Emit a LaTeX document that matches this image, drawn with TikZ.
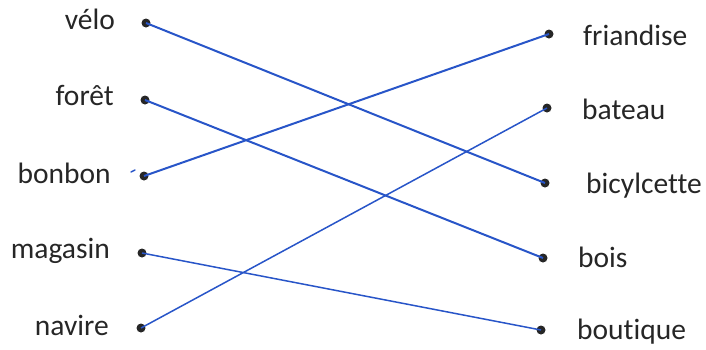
\documentclass[tikz,border=0pt]{standalone}
\usepackage{fontspec}
\setmainfont{Carlito}[Ligatures=NoCommon]
\begin{document}
\begin{tikzpicture}[x=1pt,y=-1pt,
  lbl/.style={inner sep=0pt,text=black!85,font=\fontsize{29.5}{30}\selectfont},
  dotpt/.style={circle,fill=black!85,inner sep=0pt,minimum size=9pt},
  link/.style={color={rgb,255:red,40;green,85;blue,200},line width=2pt},
  thinlink/.style={color={rgb,255:red,40;green,85;blue,200},line width=1.5pt}]
\useasboundingbox (0,0) rectangle (706,349);
% left labels
\node[lbl,anchor=base east] (tvelo) at (115,29) {vélo};
\node[lbl,anchor=base east] (tforet) at (114,105) {forêt};
\node[lbl,anchor=base east] (tbonbon) at (111,183) {bonbon};
\node[lbl,anchor=base east] (tmagasin) at (110,258) {magasin};
\node[lbl,anchor=base east] (tnavire) at (109,335) {navire};
% right labels
\node[lbl,anchor=base west] (tfriandise) at (583,45) {friandise};
\node[lbl,anchor=base west] (tbateau) at (582,119) {bateau};
\node[lbl,anchor=base west] (tbicyl) at (586,193) {bicylcette};
\node[lbl,anchor=base west] (tbois) at (578,267) {bois};
\node[lbl,anchor=base west] (tboutique) at (577,339) {boutique};
% dots
\node[dotpt] (dvelo) at (146,23) {};
\node[dotpt] (dforet) at (145,100) {};
\node[dotpt] (dbonbon) at (144,176) {};
\node[dotpt] (dmagasin) at (142,253) {};
\node[dotpt] (dnavire) at (141,328) {};
\node[dotpt] (dfriandise) at (549,34) {};
\node[dotpt] (dbateau) at (547,108) {};
\node[dotpt] (dbicyl) at (545,183) {};
\node[dotpt] (dbois) at (543,258) {};
\node[dotpt] (dboutique) at (541,330) {};
% links
\draw[link] (dvelo.center) -- (dbicyl.center);
\draw[link] (dforet.center) -- (dbois.center);
\draw[link] (dbonbon.center) -- (dfriandise.center);
\draw[thinlink] (dmagasin.center) -- (dboutique.center);
\draw[thinlink] (dnavire.center) -- (dbateau.center);
% stray pen mark
\coordinate (m1) at (131,172);
\coordinate (m2) at (135,170);
\draw[thinlink,line cap=round] (m1) -- (m2);
\end{tikzpicture}
\end{document}
